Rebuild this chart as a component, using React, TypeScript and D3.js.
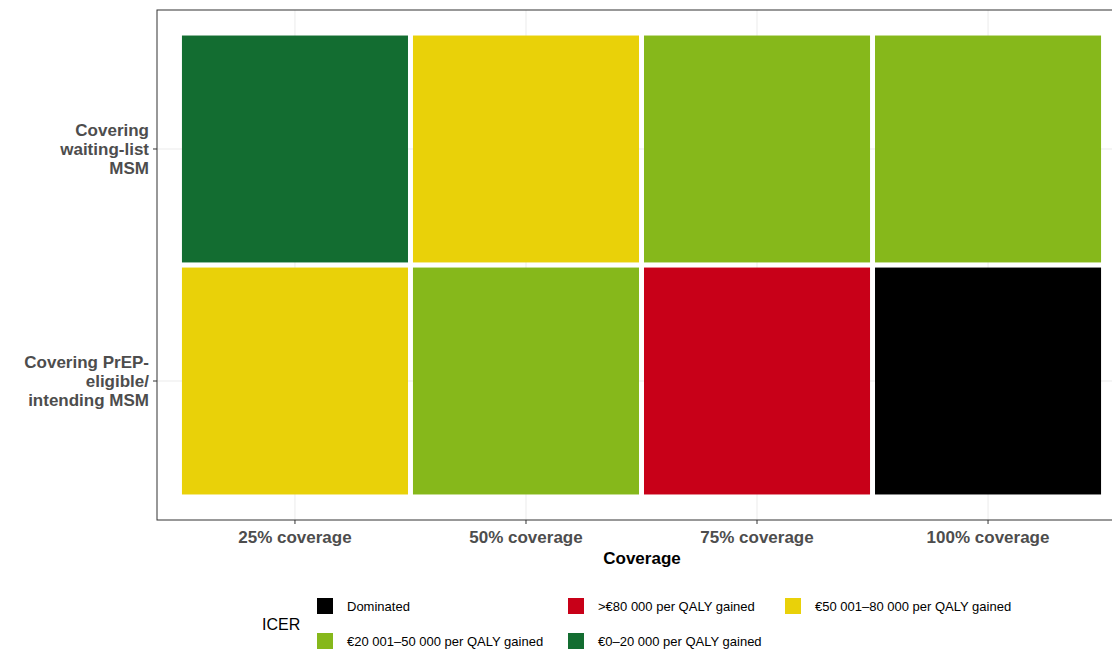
import React from 'react';
import * as d3 from 'd3';

const coverages = ['25% coverage', '50% coverage', '75% coverage', '100% coverage'];
const groups = ['Covering\nwaiting-list\nMSM', 'Covering PrEP-\neligible/\nintending MSM'];
const categories = [
  'Dominated',
  '>€80 000 per QALY gained',
  '€50 001–80 000 per QALY gained',
  '€20 001–50 000 per QALY gained',
  '€0–20 000 per QALY gained',
];
const colors = ['#000000', '#C80018', '#E9D109', '#86B81B', '#136D31'];
// ICER category per cell: row = group, column = coverage
const waitingList = [4, 2, 3, 3];
const prepEligible = [2, 3, 1, 0];
const cells = [waitingList, prepEligible];

const W = 1112, H = 649;
const left = 157, right = 1126, top = 10, bottom = 520;

export default function App() {
  const x = d3.scaleBand().domain(coverages).range([left, right]).paddingInner(0.0216).paddingOuter(0.108);
  const y = d3.scaleBand().domain(groups).range([top, bottom]).paddingInner(0.022).paddingOuter(0.11);
  const color = d3.scaleOrdinal<number, string>().domain(d3.range(categories.length)).range(colors);
  const legendPos = [[317, 606], [568, 606], [785, 606], [317, 641], [568, 641]];

  return (
    <svg width={W} height={H} style={{ position: 'absolute', left: 0, top: 0 }} fontFamily="Liberation Sans, Arial, sans-serif">
      <rect x={0} y={0} width={W} height={H} fill="#fff" />
      {coverages.map((c) => (
        <line key={c} x1={x(c)! + x.bandwidth() / 2} x2={x(c)! + x.bandwidth() / 2} y1={top} y2={bottom} stroke="#EBEBEB" strokeWidth={1} />
      ))}
      {groups.map((g) => (
        <line key={g} x1={left} x2={right} y1={y(g)! + y.bandwidth() / 2} y2={y(g)! + y.bandwidth() / 2} stroke="#EBEBEB" strokeWidth={1} />
      ))}
      {cells.map((row, i) =>
        row.map((v, j) => (
          <rect key={`${i}-${j}`} x={x(coverages[j])!} y={y(groups[i])!} width={x.bandwidth()} height={y.bandwidth()} fill={color(v)} />
        ))
      )}
      <rect x={left} y={top} width={right - left} height={bottom - top} fill="none" stroke="#333" strokeWidth={1} />
      {coverages.map((c) => {
        const cx = x(c)! + x.bandwidth() / 2;
        return (
          <g key={c}>
            <line x1={cx} x2={cx} y1={bottom} y2={bottom + 4} stroke="#333" />
            <text x={cx} y={543} textAnchor="middle" fontSize={17} fontWeight="bold" fill="#4D4D4D">{c}</text>
          </g>
        );
      })}
      {groups.map((g) => {
        const cy = y(g)! + y.bandwidth() / 2;
        const lines = g.split('\n');
        return (
          <g key={g}>
            <line x1={left - 4} x2={left} y1={cy} y2={cy} stroke="#333" />
            {lines.map((l, k) => (
              <text key={k} x={149} y={cy + (k - (lines.length - 1) / 2) * 19 + 6} textAnchor="end" fontSize={17} fontWeight="bold" fill="#4D4D4D">{l}</text>
            ))}
          </g>
        );
      })}
      <text x={642} y={564} textAnchor="middle" fontSize={17} fontWeight="bold" fill="#000">Coverage</text>
      <text x={262} y={630} fontSize={16} fill="#000">ICER</text>
      {categories.map((c, i) => (
        <g key={c}>
          <rect x={legendPos[i][0]} y={legendPos[i][1] - 8} width={16} height={16} fill={colors[i]} />
          <text x={legendPos[i][0] + 30} y={legendPos[i][1] + 5} fontSize={13} fill="#000">{c}</text>
        </g>
      ))}
    </svg>
  );
}
